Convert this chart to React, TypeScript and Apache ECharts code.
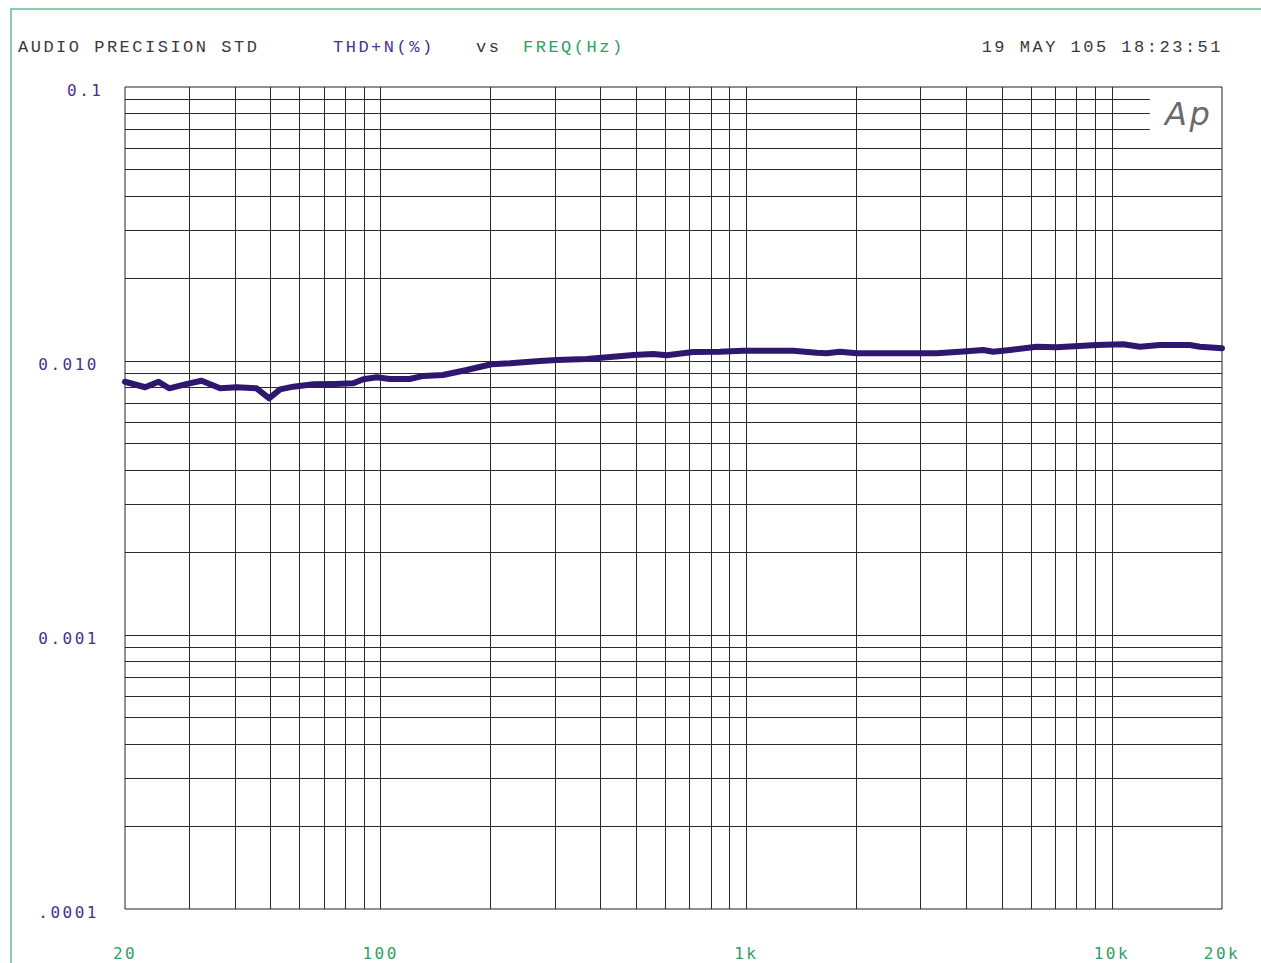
import React, { useEffect, useRef } from "react";
import * as echarts from "echarts";

// ---- data ----
const freqHz = [
  20, 22.7, 24.7, 26.4, 30, 32.4, 36.4, 40.4, 45.8, 49.6, 53.1, 57.7, 65.5, 75, 84.2, 89.7,
  97.6, 106, 120, 131, 148, 172, 201, 226, 273, 303, 366, 433, 491, 557, 606, 716, 847, 981,
  1344, 1558, 1659, 1804, 2004, 3316, 3840, 4446, 4736, 5260, 6224, 7058, 9080, 10740, 11930,
  13520, 16340, 17400, 20000,
];
const thdPct = [
  0.0084, 0.00802, 0.0084, 0.00795, 0.00829, 0.00847, 0.00795, 0.00802, 0.00795, 0.00731,
  0.00788, 0.00806, 0.00822, 0.00825, 0.00829, 0.00858, 0.00872, 0.0086, 0.0086, 0.00882,
  0.00889, 0.00927, 0.00973, 0.00981, 0.01, 0.01008, 0.01017, 0.01037, 0.01052, 0.01061,
  0.01049, 0.01078, 0.01081, 0.0109, 0.0109, 0.01072, 0.01067, 0.01081, 0.01067, 0.01067,
  0.01081, 0.01097, 0.01081, 0.01097, 0.01128, 0.01122, 0.01144, 0.01151, 0.01128, 0.01144,
  0.01144, 0.01128, 0.01113,
];

const xTickValues = [20, 100, 1000, 10000, 20000];
const xTickLabels = ["20", "100", "1k", "10k", "20k"];
const yTickValues = [0.1, 0.01, 0.001, 0.0001];
const yTickLabels = ["0.1", "0.010", "0.001", ".0001"];

const xGridValues = [
  30, 40, 50, 60, 70, 80, 90, 100, 200, 300, 400, 500, 600, 700, 800, 900, 1000, 2000, 3000,
  4000, 5000, 6000, 7000, 8000, 9000, 10000,
];
const yGridFull = [
  0.0002, 0.0003, 0.0004, 0.0005, 0.0006, 0.0007, 0.0008, 0.0009, 0.001, 0.002, 0.003, 0.004,
  0.005, 0.006, 0.007, 0.008, 0.009, 0.01, 0.02, 0.03, 0.04, 0.05, 0.06,
];
const yGridShort = [0.07, 0.08, 0.09];
const logoGapFreq = 12700;

const xMin = 20;
const xMax = 20000;
const yMin = 0.0001;
const yMax = 0.1;

const headerLeft = "AUDIO PRECISION STD";
const headerY = "THD+N(%)";
const headerVs = "vs";
const headerX = "FREQ(Hz)";
const headerDate = "19 MAY 105 18:23:51";
const logoText = "Ap";

const PURPLE = "#4b2f8e";
const GREEN = "#2f9e63";
const GRAY = "#3a3a3a";
const CURVE = "#2e176e";
const FRAME = "#86cfa8";

function lookupIndex(values: number[], v: number): number {
  for (let i = 0; i < values.length; i++) {
    if (Math.abs(v / values[i] - 1) < 1e-6) return i;
  }
  return -1;
}

export default function App() {
  const ref = useRef<HTMLDivElement>(null);

  useEffect(() => {
    if (!ref.current) return;
    const chart = echarts.init(ref.current, undefined, { renderer: "svg" });
    const mono = "'Liberation Mono', 'Courier New', monospace";
    const sansMono = "'DejaVu Sans Mono', monospace";

    chart.setOption({
      animation: false,
      backgroundColor: "#ffffff",
      grid: {
        left: 125,
        top: 87,
        right: 39,
        bottom: 54,
        show: true,
        borderColor: "#222",
        borderWidth: 1,
        backgroundColor: "transparent",
      },
      xAxis: {
        type: "log",
        logBase: 10,
        min: xMin,
        max: xMax,
        axisLine: { show: false },
        axisTick: { show: false },
        splitLine: { show: false },
        axisLabel: {
          show: true,
          showMinLabel: true,
          showMaxLabel: true,
          margin: 36,
          color: GREEN,
          fontFamily: sansMono,
          fontSize: 16,
          formatter: (v: number) => {
            const i = lookupIndex(xTickValues, v);
            return i < 0 ? "" : xTickLabels[i];
          },
        },
      },
      yAxis: {
        type: "log",
        logBase: 10,
        min: yMin,
        max: yMax,
        axisLine: { show: false },
        axisTick: { show: false },
        splitLine: { show: false },
        axisLabel: {
          show: true,
          showMinLabel: true,
          showMaxLabel: true,
          margin: 26,
          formatter: (v: number) => {
            const i = lookupIndex(yTickValues, v);
            if (i < 0) return "";
            return (i === 0 ? "{t|" : "{a|") + yTickLabels[i] + "}";
          },
          rich: {
            a: {
              color: PURPLE,
              fontFamily: sansMono,
              fontSize: 16,
              padding: [6, 0, 0, 0],
            },
            t: {
              color: PURPLE,
              fontFamily: sansMono,
              fontSize: 16,
              padding: [6, 0, 0, 0],
              width: 32,
              align: "left",
            },
          },
        },
      },
      graphic: [
        {
          type: "rect",
          silent: true,
          shape: { x: 11, y: 9, width: 1400, height: 1100 },
          style: { fill: "none", stroke: FRAME, lineWidth: 2 },
          z: 0,
        },
        {
          type: "text",
          x: 18,
          y: 47,
          style: { text: headerLeft, fill: GRAY, font: `17px ${mono}`, verticalAlign: "middle" },
        },
        {
          type: "text",
          x: 333,
          y: 47,
          style: { text: headerY, fill: PURPLE, font: `17px ${mono}`, verticalAlign: "middle" },
        },
        {
          type: "text",
          x: 476,
          y: 47,
          style: { text: headerVs, fill: GRAY, font: `17px ${mono}`, verticalAlign: "middle" },
        },
        {
          type: "text",
          x: 523,
          y: 47,
          style: { text: headerX, fill: GREEN, font: `17px ${mono}`, verticalAlign: "middle" },
        },
        {
          type: "text",
          x: 1223,
          y: 47,
          style: {
            text: headerDate,
            fill: GRAY,
            font: `17px ${mono}`,
            align: "right",
            verticalAlign: "middle",
          },
        },
        {
          type: "text",
          x: 1165,
          y: 114,
          style: {
            text: logoText,
            fill: "#6a6a6a",
            font: "italic 100 32px 'DejaVu Sans ExtraLight', 'DejaVu Sans', sans-serif",
            verticalAlign: "middle",
          },
        },
      ],
      series: [
        {
          type: "line",
          name: "grid",
          data: [],
          silent: true,
          z: 1,
          markLine: {
            silent: true,
            precision: 10,
            symbol: ["none", "none"],
            label: { show: false },
            z: 1,
            animation: false,
            lineStyle: { color: "#2a2a2a", width: 1, type: "solid" },
            emphasis: { disabled: true },
            data: [
              ...xGridValues.map((v) => ({ xAxis: v })),
              ...yGridFull.map((v) => ({ yAxis: v })),
              ...yGridShort.map((v) => [{ coord: [xMin, v] }, { coord: [logoGapFreq, v] }]),
            ],
          },
        },
        {
          type: "line",
          name: "THD+N",
          z: 10,
          showSymbol: false,
          symbol: "none",
          silent: true,
          lineStyle: { color: CURVE, width: 6, join: "round", cap: "round" },
          data: freqHz.map((f, i) => [f, thdPct[i]]),
        },
      ],
    });

    return () => chart.dispose();
  }, []);

  return (
    <>
      <style>{`.ap-chart svg text { letter-spacing: 2.5px; }`}</style>
      <div
        ref={ref}
        className="ap-chart"
        style={{ position: "absolute", left: 0, top: 0, width: 1261, height: 963 }}
      />
    </>
  );
}
